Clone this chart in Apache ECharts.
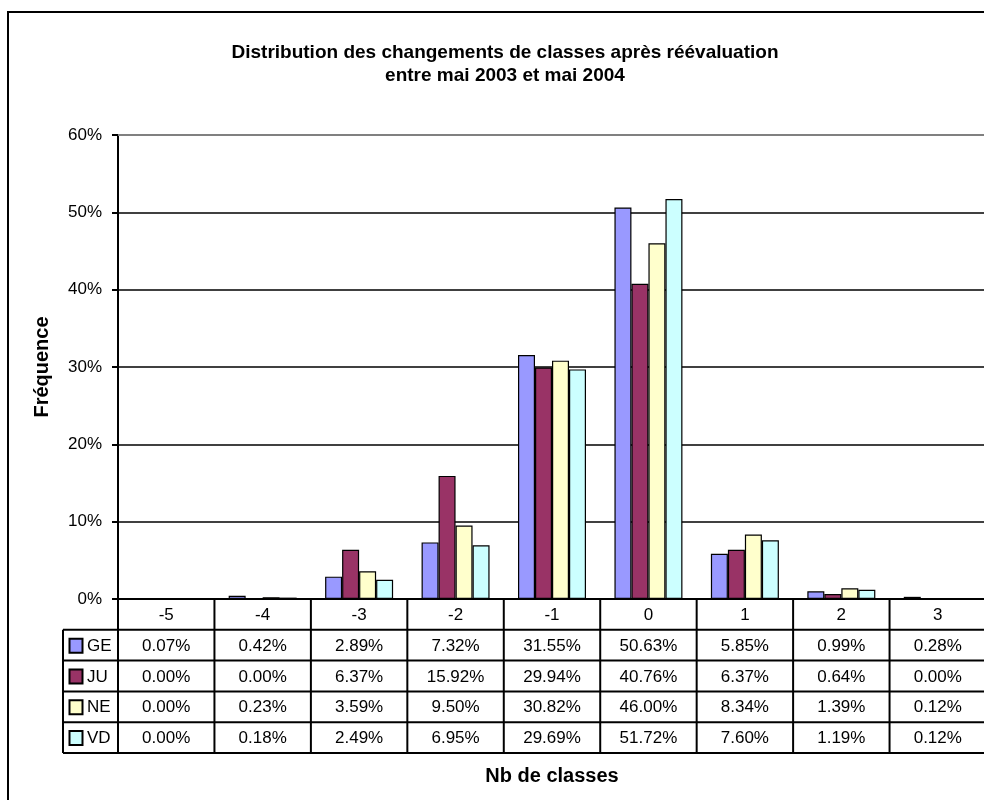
<!DOCTYPE html>
<html><head><meta charset="utf-8">
<script src="https://cdn.jsdelivr.net/npm/echarts@6/dist/echarts.min.js"></script>
<style>html,body{margin:0;padding:0;background:#fff;overflow:hidden}#c{width:984px;height:800px}</style>
</head><body><div id="c"></div>
<script>
const categories = ['-5','-4','-3','-2','-1','0','1','2','3'];
const seriesNames = ['GE','JU','NE','VD'];
const GE = [0.07, 0.42, 2.89, 7.32, 31.55, 50.63, 5.85, 0.99, 0.28];
const JU = [0.00, 0.00, 6.37, 15.92, 29.94, 40.76, 6.37, 0.64, 0.00];
const NE = [0.00, 0.23, 3.59, 9.50, 30.82, 46.00, 8.34, 1.39, 0.12];
const VD = [0.00, 0.18, 2.49, 6.95, 29.69, 51.72, 7.60, 1.19, 0.12];
const seriesData = [GE, JU, NE, VD];
const colors = ['#9999FF', '#993366', '#FFFFCC', '#CCFFFF'];
const yMin = 0, yMax = 60, yStep = 10;
const titleText = 'Distribution des changements de classes après réévaluation\nentre mai 2003 et mai 2004';
const yName = 'Fréquence';
const xName = 'Nb de classes';

const FONT = "'Liberation Sans', Arial, sans-serif";
const chart = echarts.init(document.getElementById('c'), null, {renderer: 'canvas'});

const GRID = {left: 118, top: 135, width: 868, height: 464};

chart.setOption({
  animation: false,
  backgroundColor: '#fff',
  title: {
    text: titleText,
    left: 500, top: 36, textAlign: 'center',
    textStyle: {fontFamily: FONT, fontWeight: 'bold', fontSize: 19, color: '#000', lineHeight: 23}
  },
  grid: Object.assign({outerBoundsMode: 'none', containLabel: false}, GRID),
  xAxis: {
    type: 'category', data: categories,
    axisLine: {lineStyle: {color: '#000', width: 2}},
    axisTick: {show: false}, axisLabel: {show: false}, splitLine: {show: false}
  },
  yAxis: {
    type: 'value', min: yMin, max: yMax, interval: yStep,
    name: yName, nameLocation: 'middle', nameRotate: 90, nameGap: 66,
    nameTextStyle: {fontFamily: FONT, fontWeight: 'bold', fontSize: 20, color: '#000'},
    axisLine: {show: true, lineStyle: {color: '#000', width: 2}},
    axisTick: {show: true, length: 6, lineStyle: {color: '#000', width: 2}},
    axisLabel: {formatter: '{value}%', fontFamily: FONT, fontSize: 17, color: '#000', margin: 16},
    splitLine: {show: true, lineStyle: {color: '#000', width: 1.5}}
  },
  series: seriesNames.map((n, i) => ({
    name: n, type: 'bar', data: seriesData[i],
    barGap: '0%', barCategoryGap: '29.5%',
    itemStyle: {color: colors[i], borderColor: '#000', borderWidth: 1.2}
  }))
});

// Build data table under the plot from the same arrays
const x0 = chart.convertToPixel({xAxisIndex: 0}, 0);
const x1 = chart.convertToPixel({xAxisIndex: 0}, 1);
const cw = x1 - x0;
const leftX = x0 - cw / 2;
const rightX = leftX + cw * categories.length;
const top0 = chart.convertToPixel({yAxisIndex: 0}, 0);
const yTop = chart.convertToPixel({yAxisIndex: 0}, yMax);
const rowH = 30.8;
const legX = 63;
const nRows = seriesNames.length;
const bottomY = top0 + rowH * (nRows + 1);
const g = [];
const LS = {stroke: '#000', lineWidth: 2};
// outer chart frame
g.push({type: 'rect', shape: {x: 8, y: 12, width: 1200, height: 1000}, style: {fill: null, stroke: '#000', lineWidth: 2}, z: 0, silent: true});
// grey top gridline
g.push({type: 'line', shape: {x1: leftX, y1: yTop, x2: rightX + 10, y2: yTop}, style: {stroke: '#808080', lineWidth: 2}, z: 50});
// vertical boundaries
for (let i = 0; i <= categories.length; i++) {
  const x = leftX + i * cw;
  g.push({type: 'line', shape: {x1: x, y1: top0, x2: x, y2: bottomY}, style: LS, z: 50});
}
// legend column left border
g.push({type: 'line', shape: {x1: legX, y1: top0 + rowH, x2: legX, y2: bottomY}, style: LS, z: 50});
// horizontal lines
for (let r = 1; r <= nRows + 1; r++) {
  const y = top0 + r * rowH;
  g.push({type: 'line', shape: {x1: legX, y1: y, x2: rightX + 10, y2: y}, style: LS, z: 50});
}
// header labels
categories.forEach((c, i) => {
  g.push({type: 'text', x: leftX + (i + 0.5) * cw, y: top0 + rowH / 2 + 1, z: 60,
    style: {text: c, fill: '#000', font: '17px ' + FONT, align: 'center', verticalAlign: 'middle'}});
});
// rows
seriesNames.forEach((n, r) => {
  const cy = top0 + (r + 1.5) * rowH + 1;
  g.push({type: 'rect', shape: {x: legX + 6.5, y: cy - 7.5, width: 13, height: 14},
    style: {fill: colors[r], stroke: '#000', lineWidth: 2}, z: 60});
  g.push({type: 'text', x: legX + 24, y: cy, z: 60,
    style: {text: n, fill: '#000', font: '17px ' + FONT, align: 'left', verticalAlign: 'middle'}});
  seriesData[r].forEach((v, i) => {
    g.push({type: 'text', x: leftX + (i + 0.5) * cw, y: cy, z: 60,
      style: {text: v.toFixed(2) + '%', fill: '#000', font: '17px ' + FONT, align: 'center', verticalAlign: 'middle'}});
  });
});
// x axis name
g.push({type: 'text', x: 552, y: 776, z: 60,
  style: {text: xName, fill: '#000', font: 'bold 20px ' + FONT, align: 'center', verticalAlign: 'middle'}});
chart.setOption({graphic: g});
</script>
</body></html>
